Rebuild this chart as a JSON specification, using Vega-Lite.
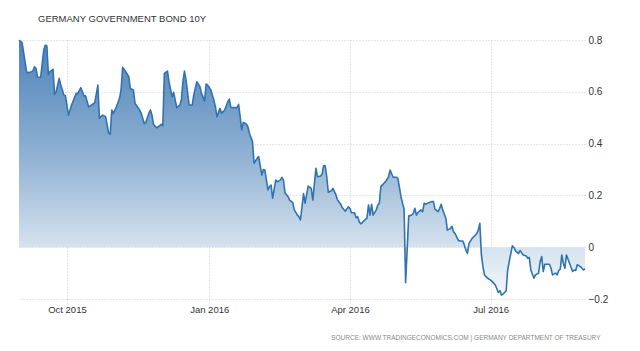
{
  "$schema": "https://vega.github.io/schema/vega-lite/v6.json",
  "width": 566,
  "height": 259,
  "autosize": {"type": "none"},
  "padding": {"left": 19, "top": 40, "right": 55, "bottom": 52},
  "background": "white",
  "config": {"view": {"stroke": null}, "font": "Liberation Sans"},
  "title": {"text": "GERMANY GOVERNMENT BOND 10Y", "anchor": "start", "frame": "group", "dx": 19, "offset": 4, "baseline": "alphabetic", "fontSize": 9.5, "fontWeight": "normal", "color": "#333333"},
  "data": {"values": [
    {"date": "2015-08-31", "yield": 0.80}, {"date": "2015-09-02", "yield": 0.79}, {"date": "2015-09-05", "yield": 0.674}, {"date": "2015-09-07", "yield": 0.675},
    {"date": "2015-09-09", "yield": 0.68}, {"date": "2015-09-10", "yield": 0.697}, {"date": "2015-09-11", "yield": 0.69}, {"date": "2015-09-12", "yield": 0.656},
    {"date": "2015-09-14", "yield": 0.656}, {"date": "2015-09-16", "yield": 0.761}, {"date": "2015-09-17", "yield": 0.78}, {"date": "2015-09-18", "yield": 0.778},
    {"date": "2015-09-19", "yield": 0.667}, {"date": "2015-09-20", "yield": 0.678}, {"date": "2015-09-22", "yield": 0.687}, {"date": "2015-09-23", "yield": 0.59},
    {"date": "2015-09-24", "yield": 0.60}, {"date": "2015-09-26", "yield": 0.652}, {"date": "2015-09-27", "yield": 0.626}, {"date": "2015-09-29", "yield": 0.588},
    {"date": "2015-09-30", "yield": 0.585}, {"date": "2015-10-02", "yield": 0.51}, {"date": "2015-10-04", "yield": 0.549}, {"date": "2015-10-07", "yield": 0.594},
    {"date": "2015-10-08", "yield": 0.593}, {"date": "2015-10-10", "yield": 0.616}, {"date": "2015-10-12", "yield": 0.584}, {"date": "2015-10-13", "yield": 0.585},
    {"date": "2015-10-15", "yield": 0.542}, {"date": "2015-10-17", "yield": 0.549}, {"date": "2015-10-19", "yield": 0.558}, {"date": "2015-10-21", "yield": 0.626},
    {"date": "2015-10-22", "yield": 0.498}, {"date": "2015-10-24", "yield": 0.51}, {"date": "2015-10-26", "yield": 0.504}, {"date": "2015-10-28", "yield": 0.44},
    {"date": "2015-10-29", "yield": 0.437}, {"date": "2015-10-30", "yield": 0.53}, {"date": "2015-10-31", "yield": 0.517}, {"date": "2015-11-02", "yield": 0.542},
    {"date": "2015-11-04", "yield": 0.575}, {"date": "2015-11-05", "yield": 0.607}, {"date": "2015-11-06", "yield": 0.695}, {"date": "2015-11-08", "yield": 0.678},
    {"date": "2015-11-10", "yield": 0.658}, {"date": "2015-11-11", "yield": 0.613}, {"date": "2015-11-13", "yield": 0.607}, {"date": "2015-11-14", "yield": 0.556},
    {"date": "2015-11-17", "yield": 0.53}, {"date": "2015-11-18", "yield": 0.517}, {"date": "2015-11-20", "yield": 0.478}, {"date": "2015-11-21", "yield": 0.482},
    {"date": "2015-11-23", "yield": 0.517}, {"date": "2015-11-24", "yield": 0.53}, {"date": "2015-11-25", "yield": 0.51}, {"date": "2015-11-26", "yield": 0.474},
    {"date": "2015-11-28", "yield": 0.461}, {"date": "2015-11-30", "yield": 0.469}, {"date": "2015-12-01", "yield": 0.474}, {"date": "2015-12-02", "yield": 0.469},
    {"date": "2015-12-03", "yield": 0.671}, {"date": "2015-12-05", "yield": 0.68}, {"date": "2015-12-06", "yield": 0.639}, {"date": "2015-12-08", "yield": 0.581},
    {"date": "2015-12-09", "yield": 0.598}, {"date": "2015-12-11", "yield": 0.539}, {"date": "2015-12-13", "yield": 0.549}, {"date": "2015-12-14", "yield": 0.568},
    {"date": "2015-12-15", "yield": 0.639}, {"date": "2015-12-16", "yield": 0.68}, {"date": "2015-12-17", "yield": 0.646}, {"date": "2015-12-19", "yield": 0.549},
    {"date": "2015-12-21", "yield": 0.549}, {"date": "2015-12-22", "yield": 0.588}, {"date": "2015-12-24", "yield": 0.639}, {"date": "2015-12-26", "yield": 0.62},
    {"date": "2015-12-27", "yield": 0.594}, {"date": "2015-12-29", "yield": 0.565}, {"date": "2015-12-30", "yield": 0.63}, {"date": "2015-12-31", "yield": 0.626},
    {"date": "2016-01-02", "yield": 0.607}, {"date": "2016-01-04", "yield": 0.568}, {"date": "2016-01-05", "yield": 0.542}, {"date": "2016-01-06", "yield": 0.504},
    {"date": "2016-01-08", "yield": 0.536}, {"date": "2016-01-09", "yield": 0.517}, {"date": "2016-01-11", "yield": 0.53}, {"date": "2016-01-12", "yield": 0.545},
    {"date": "2016-01-13", "yield": 0.562}, {"date": "2016-01-14", "yield": 0.572}, {"date": "2016-01-15", "yield": 0.54}, {"date": "2016-01-17", "yield": 0.539},
    {"date": "2016-01-19", "yield": 0.539}, {"date": "2016-01-20", "yield": 0.552}, {"date": "2016-01-21", "yield": 0.504}, {"date": "2016-01-22", "yield": 0.453},
    {"date": "2016-01-23", "yield": 0.482}, {"date": "2016-01-25", "yield": 0.476}, {"date": "2016-01-26", "yield": 0.465}, {"date": "2016-01-27", "yield": 0.44},
    {"date": "2016-01-29", "yield": 0.407}, {"date": "2016-01-30", "yield": 0.324}, {"date": "2016-01-31", "yield": 0.334}, {"date": "2016-02-01", "yield": 0.343},
    {"date": "2016-02-02", "yield": 0.35}, {"date": "2016-02-04", "yield": 0.279}, {"date": "2016-02-05", "yield": 0.30}, {"date": "2016-02-06", "yield": 0.298},
    {"date": "2016-02-07", "yield": 0.259}, {"date": "2016-02-08", "yield": 0.221}, {"date": "2016-02-09", "yield": 0.234}, {"date": "2016-02-10", "yield": 0.24},
    {"date": "2016-02-11", "yield": 0.189}, {"date": "2016-02-13", "yield": 0.259}, {"date": "2016-02-14", "yield": 0.253}, {"date": "2016-02-16", "yield": 0.259},
    {"date": "2016-02-17", "yield": 0.27}, {"date": "2016-02-18", "yield": 0.259}, {"date": "2016-02-19", "yield": 0.21}, {"date": "2016-02-21", "yield": 0.195},
    {"date": "2016-02-22", "yield": 0.182}, {"date": "2016-02-24", "yield": 0.172}, {"date": "2016-02-25", "yield": 0.145}, {"date": "2016-02-27", "yield": 0.124},
    {"date": "2016-02-28", "yield": 0.118}, {"date": "2016-02-29", "yield": 0.105}, {"date": "2016-03-01", "yield": 0.156}, {"date": "2016-03-02", "yield": 0.207},
    {"date": "2016-03-03", "yield": 0.17}, {"date": "2016-03-05", "yield": 0.236}, {"date": "2016-03-07", "yield": 0.227}, {"date": "2016-03-08", "yield": 0.182},
    {"date": "2016-03-10", "yield": 0.305}, {"date": "2016-03-11", "yield": 0.272}, {"date": "2016-03-13", "yield": 0.275}, {"date": "2016-03-14", "yield": 0.283},
    {"date": "2016-03-15", "yield": 0.315}, {"date": "2016-03-16", "yield": 0.314}, {"date": "2016-03-17", "yield": 0.272}, {"date": "2016-03-18", "yield": 0.212},
    {"date": "2016-03-20", "yield": 0.218}, {"date": "2016-03-21", "yield": 0.227}, {"date": "2016-03-23", "yield": 0.201}, {"date": "2016-03-24", "yield": 0.182},
    {"date": "2016-03-26", "yield": 0.166}, {"date": "2016-03-27", "yield": 0.153}, {"date": "2016-03-29", "yield": 0.139}, {"date": "2016-03-31", "yield": 0.156},
    {"date": "2016-04-01", "yield": 0.15}, {"date": "2016-04-02", "yield": 0.133}, {"date": "2016-04-04", "yield": 0.133}, {"date": "2016-04-05", "yield": 0.114},
    {"date": "2016-04-06", "yield": 0.118}, {"date": "2016-04-07", "yield": 0.098}, {"date": "2016-04-08", "yield": 0.09}, {"date": "2016-04-09", "yield": 0.095},
    {"date": "2016-04-10", "yield": 0.102}, {"date": "2016-04-12", "yield": 0.112}, {"date": "2016-04-13", "yield": 0.163}, {"date": "2016-04-14", "yield": 0.124},
    {"date": "2016-04-15", "yield": 0.166}, {"date": "2016-04-16", "yield": 0.124}, {"date": "2016-04-18", "yield": 0.144}, {"date": "2016-04-19", "yield": 0.163},
    {"date": "2016-04-20", "yield": 0.17}, {"date": "2016-04-21", "yield": 0.234}, {"date": "2016-04-23", "yield": 0.247}, {"date": "2016-04-24", "yield": 0.253},
    {"date": "2016-04-26", "yield": 0.272}, {"date": "2016-04-27", "yield": 0.298}, {"date": "2016-04-28", "yield": 0.283}, {"date": "2016-04-29", "yield": 0.27},
    {"date": "2016-05-01", "yield": 0.27}, {"date": "2016-05-02", "yield": 0.266}, {"date": "2016-05-04", "yield": 0.195}, {"date": "2016-05-05", "yield": 0.17},
    {"date": "2016-05-06", "yield": 0.148}, {"date": "2016-05-07", "yield": -0.137}, {"date": "2016-05-09", "yield": 0.12}, {"date": "2016-05-11", "yield": 0.124},
    {"date": "2016-05-12", "yield": 0.131}, {"date": "2016-05-13", "yield": 0.15}, {"date": "2016-05-14", "yield": 0.124}, {"date": "2016-05-15", "yield": 0.134},
    {"date": "2016-05-17", "yield": 0.144}, {"date": "2016-05-18", "yield": 0.137}, {"date": "2016-05-19", "yield": 0.17}, {"date": "2016-05-20", "yield": 0.166},
    {"date": "2016-05-22", "yield": 0.172}, {"date": "2016-05-24", "yield": 0.176}, {"date": "2016-05-25", "yield": 0.176}, {"date": "2016-05-26", "yield": 0.147},
    {"date": "2016-05-28", "yield": 0.137}, {"date": "2016-05-29", "yield": 0.15}, {"date": "2016-05-30", "yield": 0.166}, {"date": "2016-05-31", "yield": 0.144},
    {"date": "2016-06-01", "yield": 0.128}, {"date": "2016-06-02", "yield": 0.112}, {"date": "2016-06-03", "yield": 0.066}, {"date": "2016-06-05", "yield": 0.072},
    {"date": "2016-06-06", "yield": 0.081}, {"date": "2016-06-07", "yield": 0.059}, {"date": "2016-06-08", "yield": 0.053}, {"date": "2016-06-10", "yield": 0.027},
    {"date": "2016-06-11", "yield": 0.024}, {"date": "2016-06-13", "yield": 0.024}, {"date": "2016-06-14", "yield": 0.008}, {"date": "2016-06-15", "yield": -0.012},
    {"date": "2016-06-16", "yield": -0.024}, {"date": "2016-06-17", "yield": 0.015}, {"date": "2016-06-19", "yield": 0.034}, {"date": "2016-06-21", "yield": 0.046},
    {"date": "2016-06-22", "yield": 0.053}, {"date": "2016-06-23", "yield": 0.066}, {"date": "2016-06-24", "yield": 0.092}, {"date": "2016-06-25", "yield": -0.03},
    {"date": "2016-06-26", "yield": -0.075}, {"date": "2016-06-27", "yield": -0.107}, {"date": "2016-06-28", "yield": -0.114}, {"date": "2016-06-30", "yield": -0.124},
    {"date": "2016-07-01", "yield": -0.127}, {"date": "2016-07-02", "yield": -0.133}, {"date": "2016-07-04", "yield": -0.146}, {"date": "2016-07-06", "yield": -0.175},
    {"date": "2016-07-07", "yield": -0.168}, {"date": "2016-07-08", "yield": -0.185}, {"date": "2016-07-09", "yield": -0.181}, {"date": "2016-07-10", "yield": -0.175},
    {"date": "2016-07-11", "yield": -0.168}, {"date": "2016-07-12", "yield": -0.088}, {"date": "2016-07-13", "yield": -0.056}, {"date": "2016-07-15", "yield": 0.005},
    {"date": "2016-07-16", "yield": -0.001}, {"date": "2016-07-17", "yield": -0.013}, {"date": "2016-07-19", "yield": -0.025}, {"date": "2016-07-20", "yield": -0.013},
    {"date": "2016-07-21", "yield": -0.021}, {"date": "2016-07-22", "yield": -0.03}, {"date": "2016-07-24", "yield": -0.034}, {"date": "2016-07-25", "yield": -0.043},
    {"date": "2016-07-26", "yield": -0.04}, {"date": "2016-07-27", "yield": -0.088}, {"date": "2016-07-29", "yield": -0.12}, {"date": "2016-07-30", "yield": -0.107},
    {"date": "2016-08-01", "yield": -0.1}, {"date": "2016-08-02", "yield": -0.056}, {"date": "2016-08-03", "yield": -0.036}, {"date": "2016-08-04", "yield": -0.094},
    {"date": "2016-08-05", "yield": -0.066}, {"date": "2016-08-07", "yield": -0.066}, {"date": "2016-08-08", "yield": -0.066}, {"date": "2016-08-09", "yield": -0.081},
    {"date": "2016-08-10", "yield": -0.107}, {"date": "2016-08-12", "yield": -0.1}, {"date": "2016-08-13", "yield": -0.107}, {"date": "2016-08-14", "yield": -0.09},
    {"date": "2016-08-15", "yield": -0.085}, {"date": "2016-08-16", "yield": -0.03}, {"date": "2016-08-17", "yield": -0.062}, {"date": "2016-08-18", "yield": -0.081},
    {"date": "2016-08-19", "yield": -0.03}, {"date": "2016-08-21", "yield": -0.062}, {"date": "2016-08-23", "yield": -0.094}, {"date": "2016-08-24", "yield": -0.088},
    {"date": "2016-08-25", "yield": -0.09}, {"date": "2016-08-26", "yield": -0.068}, {"date": "2016-08-28", "yield": -0.075}, {"date": "2016-08-29", "yield": -0.081},
    {"date": "2016-08-30", "yield": -0.088}, {"date": "2016-08-31", "yield": -0.084}
  ]},
  "encoding": {
    "x": {
      "field": "date", "type": "temporal",
      "scale": {"type": "utc", "domain": ["2015-08-31", "2016-08-31"]},
      "axis": {
        "values": [
          {"year": 2015, "month": 10, "date": 1, "utc": true},
          {"year": 2016, "month": 1, "date": 1, "utc": true},
          {"year": 2016, "month": 4, "date": 1, "utc": true},
          {"year": 2016, "month": 7, "date": 1, "utc": true}
        ],
        "format": "%b %Y",
        "domain": false,
        "ticks": true, "tickSize": 4, "tickColor": "#cccccc", "tickDash": [1, 2],
        "grid": true, "gridColor": "#cccccc", "gridDash": [1, 2],
        "labelFontSize": 9.5, "labelColor": "#333333", "labelPadding": 1,
        "labelOverlap": false, "labelFlush": false,
        "title": "SOURCE: WWW.TRADINGECONOMICS.COM | GERMANY DEPARTMENT OF TREASURY",
        "titleFontSize": 6.5, "titleFontWeight": "normal", "titleColor": "#8a8a8a",
        "titleX": 581, "titleY": 38, "titleAlign": "right", "titleBaseline": "middle"
      }
    },
    "y": {
      "field": "yield", "type": "quantitative",
      "scale": {"domain": [-0.2, 0.8], "nice": false, "zero": false},
      "axis": {
        "orient": "right",
        "values": [-0.2, 0, 0.2, 0.4, 0.6, 0.8],
        "format": "~g",
        "domain": false, "ticks": false,
        "grid": true, "gridColor": "#cccccc", "gridDash": [1, 2],
        "labelFontSize": 10, "labelColor": "#333333", "labelPadding": 3,
        "title": null
      }
    }
  },
  "layer": [
    {
      "mark": {
        "type": "area",
        "fill": {
          "gradient": "linear", "x1": 0, "y1": 0, "x2": 0, "y2": 1,
          "stops": [
            {"offset": 0, "color": "#4d82b9"},
            {"offset": 0.45, "color": "#8fb1d3"},
            {"offset": 0.81, "color": "#d5e2ee"},
            {"offset": 1, "color": "#f3f7fb"}
          ]
        },
        "fillOpacity": 1
      },
      "encoding": {"y2": {"datum": 0}}
    },
    {
      "mark": {"type": "line", "color": "#2f73b1", "strokeWidth": 1.6, "strokeJoin": "round"},
      "encoding": {}
    }
  ]
}
